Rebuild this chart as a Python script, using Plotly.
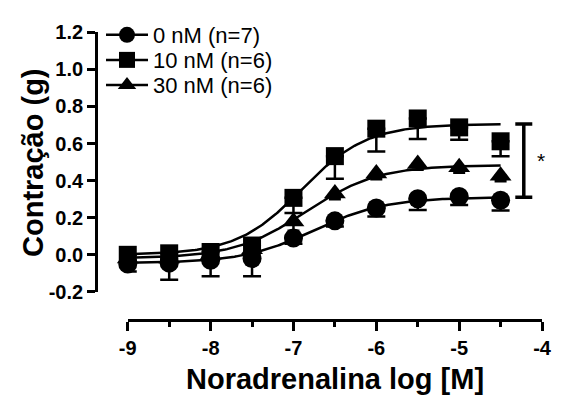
import numpy as np
import plotly.graph_objects as go

# ---------------- data ----------------
log_conc = [-9, -8.5, -8, -7.5, -7, -6.5, -6, -5.5, -5, -4.5]

series_names = ["0 nM (n=7)", "10 nM (n=6)", "30 nM (n=6)"]
series_symbols = ["circle", "square", "triangle-up"]

resp_0nM = [-0.05, -0.045, -0.03, -0.02, 0.09, 0.183, 0.252, 0.302, 0.314, 0.294]
sem_0nM = [0.04, 0.09, 0.085, 0.095, 0.03, 0.03, 0.045, 0.06, 0.046, 0.055]

resp_10nM = [0.0, 0.008, 0.015, 0.05, 0.307, 0.532, 0.68, 0.735, 0.687, 0.612]
sem_10nM = [0.03, 0.03, 0.03, 0.04, 0.081, 0.122, 0.123, 0.11, 0.067, 0.08]

resp_30nM = [-0.02, -0.02, 0.0, 0.03, 0.18, 0.33, 0.438, 0.489, 0.472, 0.426]
sem_30nM = [0.03, 0.03, 0.03, 0.04, 0.05, 0.03, 0.03, 0.03, 0.03, 0.03]

# sigmoidal fit parameters (bottom, top, logEC50, Hill slope)
fit_bottom = [-0.045, 0.0, -0.02]
fit_top = [0.31, 0.705, 0.484]
fit_logec50 = [-6.75, -6.9, -6.85]
fit_hill = [1.0, 1.1, 1.0]

x_tick_vals = [-9, -8, -7, -6, -5, -4]
x_tick_text = ["-9", "-8", "-7", "-6", "-5", "-4"]
y_tick_vals = [-0.2, 0.0, 0.2, 0.4, 0.6, 0.8, 1.0, 1.2]
y_tick_text = ["-0.2", "0.0", "0.2", "0.4", "0.6", "0.8", "1.0", "1.2"]

sig_label = "*"
x_title = "Noradrenalina log [M]"
y_title = "Contração (g)"

# ---------------- layout geometry (page pixels) ----------------
PAGE_W, PAGE_H = 561, 403
OFF = 8  # default body margin of the html page
W, H = PAGE_W - OFF, PAGE_H - OFF
FONT = "Liberation Sans, Arial, sans-serif"

def px_x(p):
    return (p - OFF) / W

def px_y(p):
    return 1 - (p - OFF) / H

x_dom = [px_x(122.7), px_x(551.7)]
y_dom = [px_y(297), px_y(22)]

fig = go.Figure()

resp_all = [resp_0nM, resp_10nM, resp_30nM]
sem_all = [sem_0nM, sem_10nM, sem_30nM]
legend_ids = ["legend", "legend2", "legend3"]
marker_sizes = [19, 18, 19]
cap_widths = [9, 9, 6]

# fitted curves
x_fit = np.linspace(min(log_conc), max(log_conc), 200)
for i in range(3):
    y_fit = fit_bottom[i] + (fit_top[i] - fit_bottom[i]) / (
        1 + 10 ** ((fit_logec50[i] - x_fit) * fit_hill[i]))
    fig.add_trace(go.Scatter(
        x=x_fit, y=y_fit, mode="lines",
        line=dict(color="black", width=2.5),
        showlegend=False, hoverinfo="skip"))

# data points with SEM (drawn below only); gaps so no connecting lines
for i in range(3):
    xs, ys, em, ep = [], [], [], []
    for xv, yv, ev in zip(log_conc, resp_all[i], sem_all[i]):
        xs += [xv, None]
        ys += [yv, None]
        em += [ev, 0]
        ep += [0, 0]
    fig.add_trace(go.Scatter(
        x=xs, y=ys, mode="lines+markers", name=series_names[i],
        connectgaps=False,
        line=dict(color="black", width=2.5),
        marker=dict(symbol=series_symbols[i], size=marker_sizes[i],
                    color="black", line=dict(width=0)),
        error_y=dict(type="data", symmetric=False, array=ep, arrayminus=em,
                     color="black", thickness=2.5, width=cap_widths[i]),
        cliponaxis=False,
        legend=legend_ids[i]))

# significance bracket between the plateaus of 0 nM and 10 nM
bracket_x = -4.22
y_lo, y_hi = fit_top[0], fit_top[1]
shapes = [
    dict(type="line", xref="x", yref="y", x0=bracket_x, x1=bracket_x,
         y0=y_lo, y1=y_hi, line=dict(color="black", width=3.5)),
]
for yy in (y_lo, y_hi):
    shapes.append(dict(type="line", xref="x", yref="y", xsizemode="pixel",
                       xanchor=bracket_x, x0=-8.5, x1=8.5, y0=yy, y1=yy,
                       line=dict(color="black", width=3.5)))

annotations = [
    dict(text=sig_label, x=bracket_x, y=(y_lo + y_hi) / 2, xref="x", yref="y",
         xshift=17, yshift=0, showarrow=False,
         font=dict(family=FONT, size=21, color="black")),
    dict(text=x_title, x=px_x(337.5), y=px_y(389), xref="paper", yref="paper",
         xanchor="center", yanchor="middle", showarrow=False,
         font=dict(family=FONT, size=29, color="black", weight="bold")),
    dict(text=y_title, x=px_x(24), y=px_y(160), xref="paper", yref="paper",
         xanchor="center", yanchor="middle", textangle=-90, showarrow=False,
         font=dict(family=FONT, size=29, color="black", weight="bold")),
]

legend_rows = [25, 51.5, 78]
legend_common = dict(xanchor="left", yanchor="middle", bgcolor="rgba(0,0,0,0)",
                     font=dict(family=FONT, size=22, color="black"),
                     borderwidth=0, itemwidth=42)
legends = {}
for lid, row in zip(legend_ids, legend_rows):
    legends[lid] = dict(x=px_x(95), y=px_y(row), **legend_common)

fig.update_layout(
    width=W, height=H,
    margin=dict(l=0, r=0, t=0, b=0),
    paper_bgcolor="white", plot_bgcolor="white",
    showlegend=True,
    shapes=shapes, annotations=annotations,
    xaxis=dict(domain=x_dom, range=[-9, -4], anchor="free", position=px_y(327),
               showgrid=False, zeroline=False,
               showline=True, linecolor="black", linewidth=3,
               ticks="outside", ticklen=9, tickwidth=3, tickcolor="black",
               tickmode="array", tickvals=x_tick_vals, ticktext=x_tick_text,
               ticklabeloverflow="allow",
               tickfont=dict(family=FONT, size=20, color="black", weight="bold"),
               minor=dict(dtick=0.5, ticks="outside", ticklen=5, tickwidth=3,
                          tickcolor="black", showgrid=False)),
    yaxis=dict(domain=y_dom, range=[-0.2, 1.2], anchor="free", position=px_x(90),
               showgrid=False, zeroline=False,
               showline=True, linecolor="black", linewidth=3,
               ticks="outside", ticklen=8, tickwidth=3, tickcolor="black",
               tickmode="array", tickvals=y_tick_vals, ticktext=y_tick_text,
               tickfont=dict(family=FONT, size=20, color="black", weight="bold")),
    **legends,
)

fig.write_html("out.html")
